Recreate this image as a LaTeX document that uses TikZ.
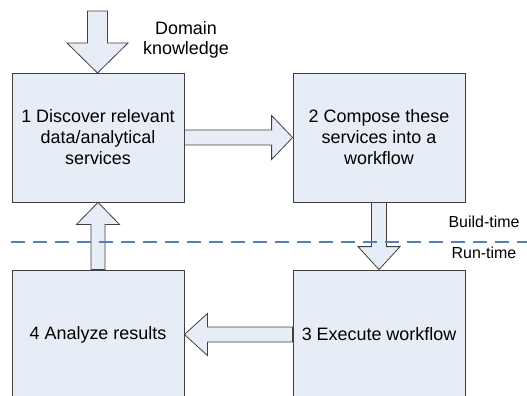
\documentclass[tikz,border=0pt]{standalone}
\usepackage{fontspec}
\setmainfont{Liberation Sans}
\usetikzlibrary{calc}

\definecolor{boxfill}{RGB}{231,237,247}
\definecolor{boxline}{RGB}{64,64,64}
\definecolor{splitblue}{RGB}{79,129,189}

% block arrow: from, to, shaft half width, head half width, head length
\newcommand{\blockarrow}[5]{%
  \coordinate (ba-h) at ($(#2)!#5!(#1)$);
  \draw[blockarr] ($(#1)!#3!90:(#2)$) -- ($(ba-h)!#3!90:(#2)$) -- ($(ba-h)!#4!90:(#2)$) -- (#2)
    -- ($(ba-h)!#4!-90:(#2)$) -- ($(ba-h)!#3!-90:(#2)$) -- ($(#1)!#3!-90:(#2)$) -- cycle;
}

\begin{document}
\begin{tikzpicture}[x=1bp, y=-1bp,
    stepbox/.style={draw=boxline, fill=boxfill, line width=0.8bp, minimum width=172bp,
      minimum height=129bp, inner sep=0pt, align=center,
      font=\fontsize{18}{21}\selectfont},
    blockarr/.style={draw=boxline, fill=boxfill, line width=0.8bp, line join=miter},
    tag/.style={align=center, inner sep=0pt, font=\fontsize{16}{20}\selectfont}]
    \useasboundingbox (0,0) rectangle (527,395);
    \clip (0,0) rectangle (527,395);

    % Steps
    \node[stepbox] (discover) at (98,137.5) {1 Discover relevant\\data/analytical\\services};
    \node[stepbox] (compose) at (379,137.5) {2 Compose these\\services into a\\workflow};
    \node[stepbox] (execute) at (379,334.5) {3 Execute workflow};
    \node[stepbox] (analyze) at (98,334.5) {4 Analyze results};

    % Domain knowledge input
    \coordinate (domainsrc) at (97.5,11);
    \coordinate (domaintip) at (97.5,73);
    \node[tag, font=\fontsize{18}{20.5}\selectfont] (domain) at (186,40) {Domain\\knowledge};
    \blockarrow{domainsrc}{domaintip}{10bp}{30.5bp}{30bp}

    % Flow between steps
    \blockarrow{discover.east}{compose.west}{7.5bp}{22bp}{21bp}
    \blockarrow{compose.south}{execute.north}{7.5bp}{21bp}{23bp}
    \blockarrow{execute.west}{analyze.east}{7.5bp}{21bp}{23bp}
    \blockarrow{analyze.north}{discover.south}{7bp}{21.5bp}{22bp}

    % Build-time / run-time split
    \coordinate (splitL) at (11,242);
    \coordinate (splitR) at (527,242);
    \draw[splitblue, line width=1.8bp, dash pattern=on 14bp off 8bp] (splitL) -- (splitR);
    \node[tag] (build) at (484,222) {Build-time};
    \node[tag] (run) at (484,253) {Run-time};
\end{tikzpicture}
\end{document}
